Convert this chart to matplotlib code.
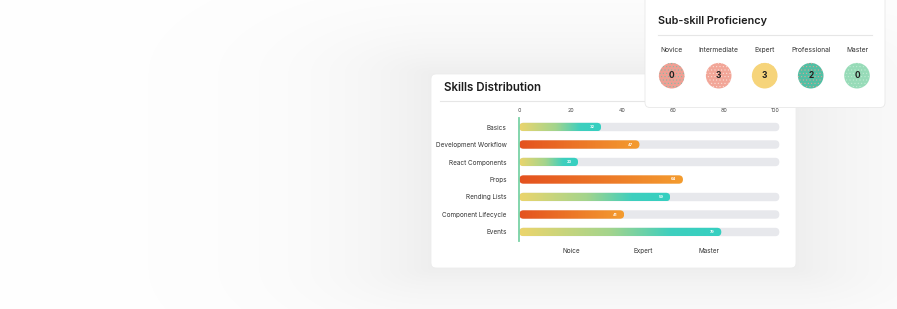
import numpy as np
import matplotlib.pyplot as plt
from matplotlib.patches import FancyBboxPatch, Circle
from matplotlib.colors import LinearSegmentedColormap

plt.rcParams['font.family'] = ['Inter', 'DejaVu Sans']
plt.rcParams['hatch.linewidth'] = 0.35

# data
skills = ['Basics', 'Development Workflow', 'React Components', 'Props',
          'Rending Lists', 'Component Lifecycle', 'Events']
scores = [32, 47, 23, 64, 59, 41, 79]
palette = ['green', 'orange', 'green', 'orange', 'green', 'orange', 'green']
has_track = [True, True, True, False, True, True, True]
x_ticks = [0, 20, 40, 60, 80, 100]
level_names = ['Noice', 'Expert', 'Master']
level_pos = [20.5, 48.6, 74]

sub_levels = ['Novice', 'Intermediate', 'Expert', 'Professional', 'Master']
sub_counts = [0, 3, 3, 2, 0]
sub_colors = ['#ef9f93', '#f2a698', '#f6d47a', '#52bfa4', '#97dbb8']
sub_dots = ['#7cbcaa', '#fbe2da', '#f6d47a', '#e6a295', '#c4ecd4']

W, H = 897, 309
fig = plt.figure(figsize=(W / 100, H / 100), dpi=100)

# background with soft shadow
bg = fig.add_axes([0, 0, 1, 1], zorder=1)
bg.set_xlim(0, W)
bg.set_ylim(H, 0)
bg.axis('off')
xx, yy = np.meshgrid(np.arange(W), np.arange(H))
dx = np.maximum(np.maximum(431 - xx, xx - 795), 0)
dy = np.maximum(np.maximum(74 - yy, yy - 268), 0)
d = np.hypot(dx / 2.4, dy)
shade = 1 - 0.065 * np.exp(-d / 42)
bg.imshow(np.dstack([shade] * 3), extent=[0, W, H, 0], aspect='auto', zorder=0)

card = FancyBboxPatch((431, 74), 365, 194, boxstyle='round,pad=0,rounding_size=5',
                      fc='white', ec='#ececec', lw=0.6, zorder=2)
bg.add_patch(card)
bg.text(444, 88, 'Skills Distribution', fontsize=8.3, fontweight='semibold',
        color='#1d1d1d', va='center', ha='left', zorder=3)
bg.plot([440, 645], [101, 101], color='#e6e6e6', lw=0.8, zorder=3)
for name, p in zip(level_names, level_pos):
    bg.text(519.3 + p * 2.557, 251, name, fontsize=4.6, color='#333333',
            ha='center', va='center', zorder=3)

# bar chart
x0, x1 = 519.3, 519.3 + 102 * 2.557
top, bot = 118.25, 240.75
ax = fig.add_axes([x0 / W, 1 - bot / H, (x1 - x0) / W, (bot - top) / H], zorder=2)
ax.set_xlim(0, 102)
ax.set_ylim(len(skills) - 0.5, -0.5)
ax.patch.set_alpha(0)
for s in ax.spines.values():
    s.set_visible(False)
ax.xaxis.tick_top()
ax.set_xticks(x_ticks)
ax.set_xticklabels([str(t) for t in x_ticks], fontsize=3.8, color='#444444')
ax.tick_params(axis='x', length=0, pad=3.5)
ax.set_yticks(range(len(skills)))
ax.set_yticklabels(skills, fontsize=4.6, color='#333333')
ax.tick_params(axis='y', length=0, pad=9)

cmaps = {
    'green': LinearSegmentedColormap.from_list(
        'g', [(0, '#ecd56c'), (0.45, '#a3d48d'), (0.75, '#3ecfbe'), (1, '#36cfc1')]),
    'orange': LinearSegmentedColormap.from_list('o', ['#e4511f', '#f49c2f']),
}
bh = 0.48
aspect = (1 / 17.5) / (1 / 2.557)
rad = bh / 2 / aspect
grad = np.linspace(0, 1, 256).reshape(1, -1)
for i, (v, c, tr) in enumerate(zip(scores, palette, has_track)):
    if tr:
        ax.add_patch(FancyBboxPatch((0, i - bh / 2), 101.7, bh,
                                    boxstyle=f'round,pad=0,rounding_size={rad}',
                                    mutation_aspect=aspect, fc='#e7e8ec', ec='none',
                                    zorder=1, clip_on=False))
    clip = FancyBboxPatch((0, i - bh / 2), v, bh,
                          boxstyle=f'round,pad=0,rounding_size={rad}',
                          mutation_aspect=aspect, fc='none', ec='none')
    ax.add_patch(clip)
    im = ax.imshow(grad, cmap=cmaps[c], extent=[0, v, i + bh / 2, i - bh / 2],
                   aspect='auto', zorder=2, interpolation='bilinear')
    im.set_clip_path(clip)
    ax.text(v - 3.5, i, str(v), fontsize=2.8, color='white', fontweight='bold',
            ha='center', va='center', zorder=3)
ax.axvline(0, color='#79d2a6', lw=1.3, zorder=4, clip_on=False)

# sub-skill card on top
ov = fig.add_axes([0, 0, 1, 1], zorder=3)
ov.set_xlim(0, W)
ov.set_ylim(H, 0)
ov.axis('off')
ov.patch.set_alpha(0)
ov.add_patch(FancyBboxPatch((645, -8), 240, 115.5, boxstyle='round,pad=0,rounding_size=5',
                            fc='white', ec='#e8e8e8', lw=0.6, zorder=2))
ov.text(658, 21.5, 'Sub-skill Proficiency', fontsize=7.8, fontweight='semibold',
        color='#1d1d1d', va='center', ha='left', zorder=3)
ov.plot([658, 872], [34.7, 34.7], color='#e6e6e6', lw=0.8, zorder=3)
sub_x = [671.7, 718.7, 764.7, 810.7, 857]
for xc, name, n, col, dc in zip(sub_x, sub_levels, sub_counts, sub_colors, sub_dots):
    ov.text(xc, 50, name, fontsize=4.8, color='#333333', ha='center', va='center', zorder=3)
    ov.add_patch(Circle((xc, 75.7), 12.8, fc=col, ec=dc, lw=0, hatch='.....', zorder=3))
    ov.text(xc, 76, str(n), fontsize=6, fontweight='bold', color='#1f1f1f',
            ha='center', va='center', zorder=4)

fig.savefig('out.png', dpi=100, facecolor='white')
